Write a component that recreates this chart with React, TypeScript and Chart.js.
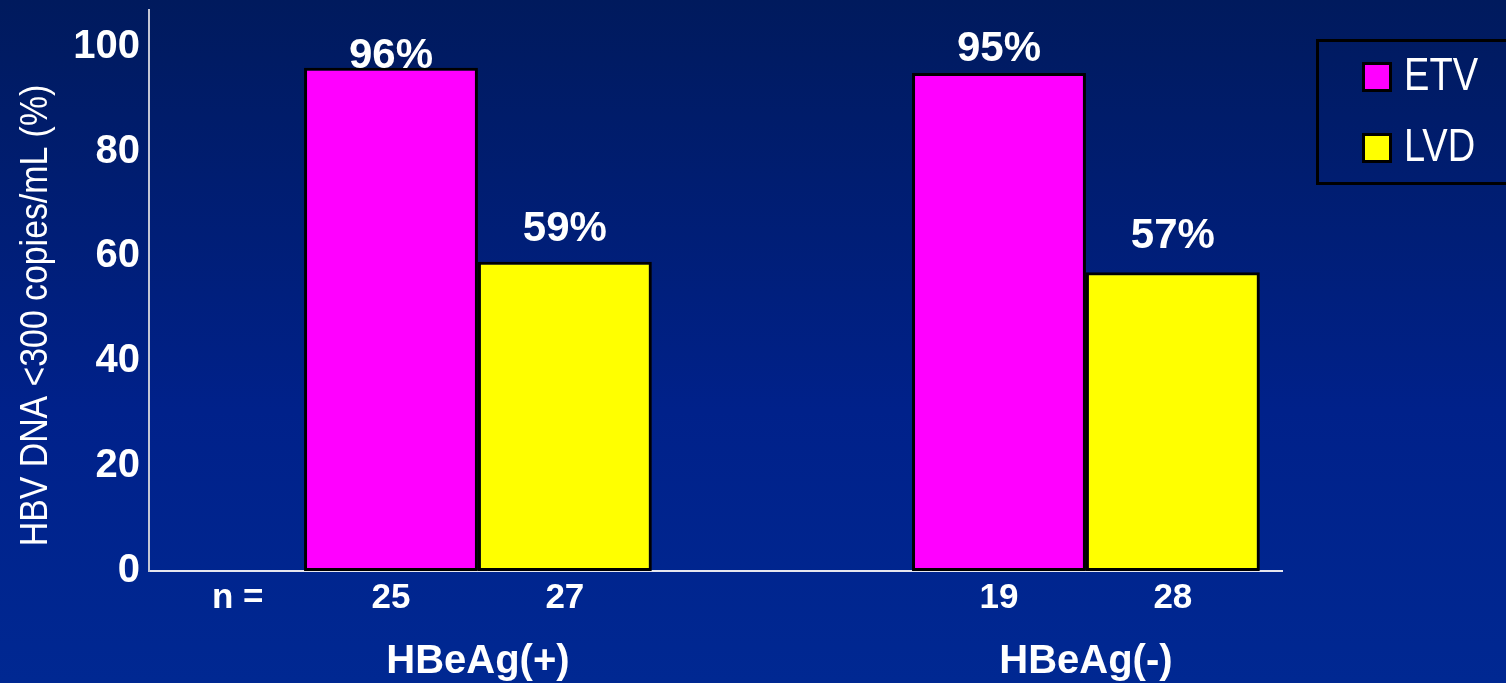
import { useEffect, useRef } from 'react';
import { Chart, registerables } from 'chart.js';

Chart.register(...registerables);

// Groups and where they sit on the linear x axis
const groups = ['HBeAg(+)', 'HBeAg(-)'];
const groupPositions = [1, 3];

// Series
const seriesNames = ['ETV', 'LVD'];
const etvValues = [96, 95];
const lvdValues = [59, 57];

// Patients per bar
const countPrefix = 'n =';
const etvCounts = [25, 19];
const lvdCounts = [27, 28];

// Value axis
const yTicks = [0, 20, 40, 60, 80, 100];
const yTitle = 'HBV DNA <300 copies/mL (%)';

const SANS = '"Liberation Sans", Arial, Helvetica, sans-serif';

const seriesColors = ['#ff00ff', '#ffff00'];
// gap (px) between each bar top and the baseline of its value label
const labelGap = [
  [0, 12],
  [21, 24],
];

// Draws text squeezed horizontally, like a narrow face
function narrowText(ctx: CanvasRenderingContext2D, text: string, x: number, y: number, squeeze: number) {
  ctx.save();
  ctx.translate(x, y);
  ctx.scale(squeeze, 1);
  ctx.fillText(text, 0, 0);
  ctx.restore();
}

const annotate = {
  id: 'annotate',
  afterDraw(chart: any) {
    const { ctx, chartArea } = chart;
    const xScale = chart.scales.x;
    ctx.save();
    ctx.fillStyle = '#ffffff';

    // value labels above bars
    ctx.font = `bold 42px ${SANS}`;
    ctx.textAlign = 'center';
    ctx.textBaseline = 'alphabetic';
    chart.data.datasets.forEach((ds: any, di: number) => {
      const meta = chart.getDatasetMeta(di);
      meta.data.forEach((el: any, i: number) => {
        ctx.fillText(`${ds.data[i].y}%`, el.x, el.y - labelGap[di][i]);
      });
    });

    // n counts under each bar
    ctx.font = `bold 35px ${SANS}`;
    ctx.textBaseline = 'middle';
    const nY = chartArea.bottom + 27;
    ctx.fillText(countPrefix, xScale.getPixelForValue(0.21), nY);
    chart.data.datasets.forEach((ds: any, di: number) => {
      const meta = chart.getDatasetMeta(di);
      meta.data.forEach((el: any, i: number) => {
        ctx.fillText(String(ds.counts[i]), el.x, nY);
      });
    });

    // group names
    ctx.font = `bold 40px ${SANS}`;
    groups.forEach((g, i) => {
      ctx.fillText(g, xScale.getPixelForValue(groupPositions[i]), chartArea.bottom + 91);
    });

    // rotated value-axis title
    ctx.font = `38px ${SANS}`;
    ctx.textBaseline = 'alphabetic';
    ctx.translate(chartArea.left - 102, (chartArea.top + chartArea.bottom) / 2 + 25);
    ctx.rotate(-Math.PI / 2);
    narrowText(ctx, yTitle, 0, 0, 0.89);
    ctx.restore();

    // legend box
    ctx.save();
    const lx = chartArea.right + 34;
    const ly = chartArea.top + 29;
    ctx.strokeStyle = '#000000';
    ctx.lineWidth = 3;
    ctx.strokeRect(lx + 1.5, ly + 1.5, 220, 143);
    ctx.font = `47px ${SANS}`;
    ctx.textAlign = 'left';
    ctx.textBaseline = 'middle';
    seriesNames.forEach((name, i) => {
      const cy = ly + 38 + i * 71;
      ctx.fillStyle = '#000000';
      ctx.fillRect(lx + 46, cy - 15, 30, 30);
      ctx.fillStyle = seriesColors[i];
      ctx.fillRect(lx + 49, cy - 12, 24, 24);
      ctx.fillStyle = '#ffffff';
      narrowText(ctx, name, lx + 88, cy, 0.81);
    });
    ctx.restore();
  },
};

export default function App() {
  const ref = useRef<HTMLCanvasElement>(null);

  useEffect(() => {
    document.body.style.margin = '0';
    const canvas = ref.current;
    if (!canvas) return;
    const chart = new Chart(canvas, {
      type: 'bar',
      data: {
        datasets: [
          {
            label: seriesNames[0],
            data: groupPositions.map((x, i) => ({ x, y: etvValues[i] })),
            counts: etvCounts,
            backgroundColor: seriesColors[0],
            borderColor: '#000000',
            borderWidth: 3,
            borderSkipped: false,
            categoryPercentage: 0.572,
            barPercentage: 1,
          } as any,
          {
            label: seriesNames[1],
            data: groupPositions.map((x, i) => ({ x, y: lvdValues[i] })),
            counts: lvdCounts,
            backgroundColor: seriesColors[1],
            borderColor: '#000000',
            borderWidth: 3,
            borderSkipped: false,
            categoryPercentage: 0.572,
            barPercentage: 1,
          } as any,
        ],
      },
      options: {
        animation: false,
        responsive: false,
        layout: { padding: { top: 10, right: 224, left: 0, bottom: 0 } },
        plugins: {
          legend: { display: false },
          tooltip: { enabled: false },
        },
        scales: {
          x: {
            type: 'linear',
            offset: false,
            min: -0.082,
            max: 3.645,
            z: 1,
            grid: { display: false, drawTicks: false, offset: false },
            border: { display: true, color: '#e6e6ee', width: 2 },
            ticks: { display: false },
            afterBuildTicks: (s: any) => {
              s.ticks = groupPositions.map((v) => ({ value: v }));
            },
            afterFit: (s: any) => {
              s.height = 112;
              s.paddingLeft = 0;
              s.paddingRight = 0;
            },
          },
          y: {
            min: 0,
            max: 107,
            grid: { display: false, drawTicks: false },
            border: { display: true, color: '#c4c6d4', width: 2 },
            ticks: {
              color: '#ffffff',
              padding: 9,
              font: { family: SANS, size: 40, weight: 'bold' },
            },
            afterBuildTicks: (s: any) => {
              s.ticks = yTicks.map((v) => ({ value: v }));
            },
            afterFit: (s: any) => {
              s.width = 149;
              s.paddingTop = 0;
              s.paddingBottom = 0;
            },
          },
        },
      },
      plugins: [annotate],
    });
    return () => chart.destroy();
  }, []);

  return (
    <div
      style={{
        width: 1506,
        height: 683,
        background: 'linear-gradient(to bottom, #001a5d 0%, #00218a 60%, #002892 100%)',
      }}
    >
      <canvas ref={ref} width={1506} height={683} style={{ display: 'block' }} />
    </div>
  );
}
